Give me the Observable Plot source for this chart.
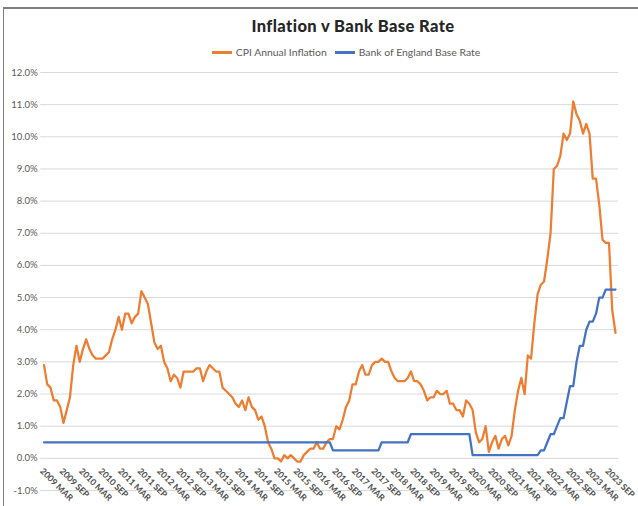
<!DOCTYPE html>
<html>
<head>
<meta charset="utf-8">
<script src="https://cdn.jsdelivr.net/npm/d3@7"></script>
<script src="https://cdn.jsdelivr.net/npm/@observablehq/plot@0.6"></script>
<style>
  html, body { margin: 0; padding: 0; background: #fff; }
  #wrap { position: relative; width: 638px; height: 506px; overflow: hidden; background: #fff; font-family: Lato, "Open Sans", sans-serif; }
  #frame { position: absolute; left: 3px; top: 7px; width: 700px; height: 600px; border-top: 2px solid #7f7f7f; border-left: 1.5px solid #7f7f7f; pointer-events: none; }
  #header { position: relative; height: 64px; }
  #title { position: absolute; left: 0; width: 706px; top: 17px; text-align: center; font-size: 16.5px; letter-spacing: 0.4px; line-height: 18px; font-weight: 900; color: #262626; }
  #legend { position: absolute; left: 0; width: 692px; top: 46px; text-align: center; font-size: 10.4px; line-height: 12px; color: #595959; white-space: nowrap; }
  .sw { display: inline-block; width: 20px; height: 2.5px; vertical-align: middle; margin-right: 4px; position: relative; top: -1px; }
  .item { margin: 0 4px; }
  #chart { position: relative; }
</style>
</head>
<body>
<div id="wrap">
  <div id="frame"></div>
  <div id="header">
    <div id="title">Inflation v Bank Base Rate</div>
    <div id="legend"></div>
  </div>
  <div id="chart"></div>
</div>
<script>
// Monthly series, March 2009 to November 2023 (one value per month)
// CPI annual inflation (%)
const cpi = [
  2.9, 2.3, 2.2, 1.8, 1.8, 1.6, 1.1, 1.5, 1.9, 2.9,                 // 2009 Mar-Dec
  3.5, 3.0, 3.4, 3.7, 3.4, 3.2, 3.1, 3.1, 3.1, 3.2, 3.3, 3.7,       // 2010
  4.0, 4.4, 4.0, 4.5, 4.5, 4.2, 4.4, 4.5, 5.2, 5.0, 4.8, 4.2,       // 2011
  3.6, 3.4, 3.5, 3.0, 2.8, 2.4, 2.6, 2.5, 2.2, 2.7, 2.7, 2.7,       // 2012
  2.7, 2.8, 2.8, 2.4, 2.7, 2.9, 2.8, 2.7, 2.7, 2.2, 2.1, 2.0,       // 2013
  1.9, 1.7, 1.6, 1.8, 1.5, 1.9, 1.6, 1.5, 1.2, 1.3, 1.0, 0.5,       // 2014
  0.3, 0.0, 0.0, -0.1, 0.1, 0.0, 0.1, 0.0, -0.1, -0.1, 0.1, 0.2,    // 2015
  0.3, 0.3, 0.5, 0.3, 0.3, 0.5, 0.6, 0.6, 1.0, 0.9, 1.2, 1.6,       // 2016
  1.8, 2.3, 2.3, 2.7, 2.9, 2.6, 2.6, 2.9, 3.0, 3.0, 3.1, 3.0,       // 2017
  3.0, 2.7, 2.5, 2.4, 2.4, 2.4, 2.5, 2.7, 2.4, 2.4, 2.3, 2.1,       // 2018
  1.8, 1.9, 1.9, 2.1, 2.0, 2.0, 2.1, 1.7, 1.7, 1.5, 1.5, 1.3,       // 2019
  1.8, 1.7, 1.5, 0.8, 0.5, 0.6, 1.0, 0.2, 0.5, 0.7, 0.3, 0.6,       // 2020
  0.7, 0.4, 0.7, 1.5, 2.1, 2.5, 2.0, 3.2, 3.1, 4.2, 5.1, 5.4,       // 2021
  5.5, 6.2, 7.0, 9.0, 9.1, 9.4, 10.1, 9.9, 10.1, 11.1, 10.7, 10.5,  // 2022
  10.1, 10.4, 10.1, 8.7, 8.7, 7.9, 6.8, 6.7, 6.7, 4.6, 3.9          // 2023 Jan-Nov
];
// Bank of England base rate (%)
const bankRate = [
  0.5, 0.5, 0.5, 0.5, 0.5, 0.5, 0.5, 0.5, 0.5, 0.5,                       // 2009 Mar-Dec
  0.5, 0.5, 0.5, 0.5, 0.5, 0.5, 0.5, 0.5, 0.5, 0.5, 0.5, 0.5,             // 2010
  0.5, 0.5, 0.5, 0.5, 0.5, 0.5, 0.5, 0.5, 0.5, 0.5, 0.5, 0.5,             // 2011
  0.5, 0.5, 0.5, 0.5, 0.5, 0.5, 0.5, 0.5, 0.5, 0.5, 0.5, 0.5,             // 2012
  0.5, 0.5, 0.5, 0.5, 0.5, 0.5, 0.5, 0.5, 0.5, 0.5, 0.5, 0.5,             // 2013
  0.5, 0.5, 0.5, 0.5, 0.5, 0.5, 0.5, 0.5, 0.5, 0.5, 0.5, 0.5,             // 2014
  0.5, 0.5, 0.5, 0.5, 0.5, 0.5, 0.5, 0.5, 0.5, 0.5, 0.5, 0.5,             // 2015
  0.5, 0.5, 0.5, 0.5, 0.5, 0.5, 0.5, 0.25, 0.25, 0.25, 0.25, 0.25,        // 2016
  0.25, 0.25, 0.25, 0.25, 0.25, 0.25, 0.25, 0.25, 0.25, 0.25, 0.5, 0.5,   // 2017
  0.5, 0.5, 0.5, 0.5, 0.5, 0.5, 0.5, 0.75, 0.75, 0.75, 0.75, 0.75,        // 2018
  0.75, 0.75, 0.75, 0.75, 0.75, 0.75, 0.75, 0.75, 0.75, 0.75, 0.75, 0.75, // 2019
  0.75, 0.75, 0.1, 0.1, 0.1, 0.1, 0.1, 0.1, 0.1, 0.1, 0.1, 0.1,           // 2020
  0.1, 0.1, 0.1, 0.1, 0.1, 0.1, 0.1, 0.1, 0.1, 0.1, 0.1, 0.25,            // 2021
  0.25, 0.5, 0.75, 0.75, 1.0, 1.25, 1.25, 1.75, 2.25, 2.25, 3.0, 3.5,     // 2022
  3.5, 4.0, 4.25, 4.25, 4.5, 5.0, 5.0, 5.25, 5.25, 5.25, 5.25             // 2023 Jan-Nov
];
// Category tick labels, every 6 months from 2009 MAR
const xTickLabels = [
  "2009 MAR", "2009 SEP", "2010 MAR", "2010 SEP", "2011 MAR", "2011 SEP",
  "2012 MAR", "2012 SEP", "2013 MAR", "2013 SEP", "2014 MAR", "2014 SEP",
  "2015 MAR", "2015 SEP", "2016 MAR", "2016 SEP", "2017 MAR", "2017 SEP",
  "2018 MAR", "2018 SEP", "2019 MAR", "2019 SEP", "2020 MAR", "2020 SEP",
  "2021 MAR", "2021 SEP", "2022 MAR", "2022 SEP", "2023 MAR", "2023 SEP"
];
const yTicks = [-1, 0, 1, 2, 3, 4, 5, 6, 7, 8, 9, 10, 11, 12];
const seriesNames = ["CPI Annual Inflation", "Bank of England Base Rate"];
const seriesColors = ["#ED7D31", "#4472C4"];

// legend
const legend = document.getElementById("legend");
seriesNames.forEach((n, k) => {
  const s = document.createElement("span");
  s.className = "item";
  s.innerHTML = `<span class="sw" style="background:${seriesColors[k]}"></span>${n}`;
  legend.appendChild(s);
});

const fmt = d => d.toFixed(1) + "%";
const chart = Plot.plot({
  width: 638,
  height: 442,
  marginLeft: 43.5,
  marginRight: 23,
  marginTop: 8,
  marginBottom: 16,
  style: { fontFamily: "Lato, 'Open Sans', sans-serif", background: "transparent", overflow: "visible" },
  x: { domain: [0, cpi.length - 1], axis: null },
  y: { domain: [-1, 12], axis: null },
  marks: [
    Plot.ruleY(yTicks, { x1: -1, x2: cpi.length, stroke: "#d9d9d9", strokeWidth: 1 }),
    Plot.text(yTicks, { x: -1, y: d => d, text: fmt, textAnchor: "end", dx: -3, fontSize: 9.5, fill: "#595959" }),
    Plot.text(xTickLabels, { x: (d, i) => i * 6, y: 0, text: d => d, rotate: 45, textAnchor: "start", lineAnchor: "top", dy: 9, fontSize: 8.7, fontWeight: 700, fill: "#4d4d4d" }),
    Plot.line(cpi, { x: (d, i) => i, y: d => d, stroke: seriesColors[0], strokeWidth: 2.25, strokeLinejoin: "round" }),
    Plot.line(bankRate, { x: (d, i) => i, y: d => d, stroke: seriesColors[1], strokeWidth: 2.25, strokeLinejoin: "round" })
  ]
});
document.getElementById("chart").appendChild(chart);
</script>
</body>
</html>
